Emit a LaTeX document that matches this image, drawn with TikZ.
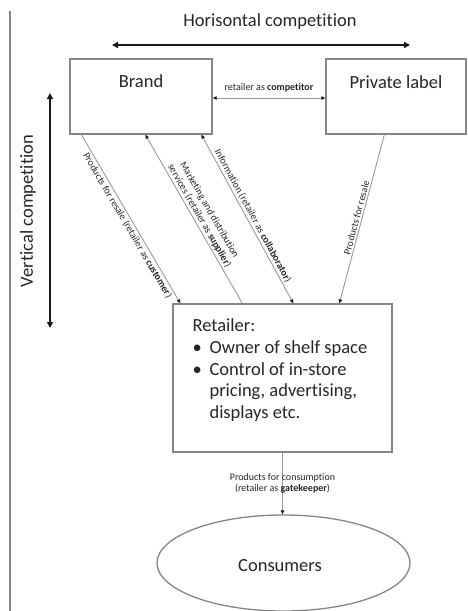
\documentclass[tikz,border=0pt]{standalone}
\usepackage{fontspec}
\setmainfont{Carlito}[Ligatures=NoCommon]
\usetikzlibrary{arrows.meta,shapes.geometric,positioning}
\definecolor{boxgray}{HTML}{858585}
\definecolor{linegray}{HTML}{999999}
\definecolor{txt}{HTML}{262626}
\definecolor{dark}{HTML}{1A1A1A}
\begin{document}
\begin{tikzpicture}[x=1pt,y=-1pt,
  box/.style={draw=boxgray, line width=1.3pt, rectangle, inner sep=0pt},
  conn/.style={draw=linegray, line width=0.9pt},
  tipend/.style={-{Triangle[length=4pt,width=3.5pt,color=dark]}},
  tipboth/.style={{Triangle[length=4pt,width=3.5pt,color=dark]}-{Triangle[length=4pt,width=3.5pt,color=dark]}},
  small/.style={font=\fontsize{10}{11.5}\selectfont, text=txt, inner sep=1.5pt},
  big/.style={font=\fontsize{18.5}{21.7}\selectfont, text=txt},
  comp/.style={draw=dark, line width=1.8pt, {Triangle[length=6pt,width=6pt]}-{Triangle[length=6pt,width=6pt]}}
]
\useasboundingbox (0,0) rectangle (467,611);
% left rule
\coordinate (rtop) at (10,11);
\coordinate (rbot) at (10,611);
\draw[draw=boxgray, line width=1.6pt] (rtop) -- (rbot);

% boxes
\node[box, minimum width=142pt, minimum height=75pt] (brand) at (141,96.5) {};
\node[box, minimum width=140pt, minimum height=75pt] (private) at (396,96.5) {};
\node[box, minimum width=219pt, minimum height=148pt] (retailer) at (282.5,378) {};
\node[draw=boxgray, line width=1.3pt, ellipse, minimum width=253pt, minimum height=96pt, inner sep=0pt] (consumers) at (283.5,563) {};
\node[big] (constext) at (280,566) {Consumers};

\node[big] (brandtext) at ([yshift=-23pt]brand.north) {Brand};
\node[big] (privtext) at ([yshift=-24pt]private.north) {Private label};

\node[big, anchor=north west, inner sep=0pt, align=left] (rettext) at ([xshift=20pt,yshift=-13pt]retailer.north west)
{\begin{tabular}{@{}p{17pt}@{}l@{}}
\multicolumn{2}{@{}l@{}}{Retailer:}\\
\textbullet & Owner of shelf space\\
\textbullet & Control of in-store\\
 & pricing, advertising,\\
 & displays etc.
\end{tabular}};

% competition arrows
\node[big] (htext) at (270,22) {Horisontal competition};
\coordinate (hl) at (112,45);
\coordinate (hr) at (410,45);
\draw[comp] (hl) -- (hr);
\node[big, rotate=90] (vtext) at (28,211) {Vertical competition};
\coordinate (vt) at (50,93);
\coordinate (vb) at (50,328);
\draw[comp] (vt) -- (vb);

% competitor
\draw[conn, tipboth] ([yshift=-1.5pt]brand.east) -- ([yshift=-1.5pt]private.west)
  node[small, midway, above=4pt] {retailer as \textbf{competitor}};

% diagonals
\draw[conn, tipend] ([xshift=12pt]brand.south west) -- ([xshift=8pt]retailer.north west)
  node[small, pos=0.52, sloped, below] {Products for resale (retailer as \textbf{customer})};
\draw[conn, tipend] ([xshift=70pt]retailer.north west) -- ([xshift=76pt]brand.south west)
  node[small, midway, sloped, above, align=center] {Marketing and distribution\\services (retailer as \textbf{supplier})};
\draw[conn, tipboth] ([xshift=121pt]retailer.north west) -- ([xshift=132pt]brand.south west)
  node[small, midway, sloped, above] {Information (retailer as \textbf{collaborator})};
\draw[conn, tipend] ([xshift=59pt]private.south west) -- ([xshift=167pt]retailer.north west)
  node[small, midway, sloped, above] {Products for resale};

% to consumers
\draw[conn, tipend] (retailer.south) -- (retailer.south |- consumers.north)
  node[small, midway, align=center] {Products for consumption\\(retailer as \textbf{gatekeeper})};
\end{tikzpicture}
\end{document}
